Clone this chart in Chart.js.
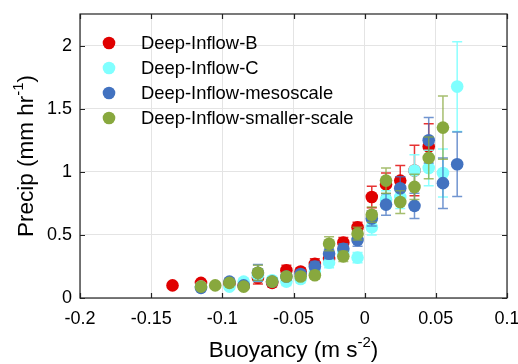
<!DOCTYPE html>
<html>
<head>
<meta charset="utf-8">
<script src="https://cdn.jsdelivr.net/npm/chart.js@4/dist/chart.umd.min.js"></script>
<style>
    html, body { margin: 0; padding: 0; background: #ffffff; }
    #wrap { width: 518px; height: 364px; }
</style>
</head>
<body>
<div id="wrap"><canvas id="precipChart"></canvas></div>
<script>
const buoyancyBins = [-0.135, -0.115, -0.105, -0.095, -0.085, -0.075, -0.065, -0.055, -0.045, -0.035,
    -0.025, -0.015, -0.005, 0.005, 0.015, 0.025, 0.035, 0.045, 0.055, 0.065];

const seriesNames = ['Deep-Inflow-B', 'Deep-Inflow-C', 'Deep-Inflow-mesoscale', 'Deep-Inflow-smaller-scale'];

const precipB = [0.10, 0.12, null, 0.11, 0.10, 0.16, 0.12, 0.22, 0.21, 0.27, 0.31, 0.44, 0.56, 0.80, 0.90, 0.93, 1.01, 1.20, null, null];
const errB = [0.01, 0.02, null, 0.02, 0.02, 0.05, 0.03, 0.04, 0.03, 0.04, 0.04, 0.04, 0.04, 0.085, 0.09, 0.12, 0.20, 0.18, null, null];

const precipC = [null, 0.09, null, 0.09, 0.13, 0.18, 0.14, 0.13, 0.15, 0.21, 0.28, 0.36, 0.32, 0.56, 0.78, 0.80, 1.01, 1.03, 0.99, 1.675];
const errC = [null, 0.02, null, 0.02, 0.02, 0.05, 0.03, 0.03, 0.03, 0.04, 0.04, 0.05, 0.04, 0.06, 0.07, 0.09, 0.125, 0.14, 0.19, 0.355];

const precipMeso = [null, 0.08, null, 0.13, 0.10, 0.20, 0.13, 0.17, 0.19, 0.25, 0.35, 0.39, 0.46, 0.63, 0.74, 0.87, 0.73, 1.25, 0.91, 1.06];
const errMeso = [null, 0.02, null, 0.02, 0.02, 0.065, 0.03, 0.03, 0.03, 0.04, 0.04, 0.04, 0.05, 0.06, 0.085, 0.09, 0.10, 0.18, 0.20, 0.255];

const precipSmall = [null, 0.09, 0.10, 0.12, 0.09, 0.20, 0.13, 0.17, 0.17, 0.18, 0.43, 0.33, 0.51, 0.66, 0.93, 0.76, 0.88, 1.11, 1.35, null];
const errSmall = [null, 0.02, 0.01, 0.02, 0.02, 0.06, 0.03, 0.03, 0.03, 0.03, 0.055, 0.04, 0.05, 0.06, 0.10, 0.09, 0.10, 0.165, 0.25, null];

const xTickValues = [-0.2, -0.15, -0.1, -0.05, 0, 0.05, 0.1];
const yTickValues = [0, 0.5, 1, 1.5, 2];

const seriesColors = ['#e00000', '#80ffff', '#4272c0', '#88a83e'];
const errColors = ['rgba(224,0,0,0.8)', 'rgba(128,255,255,0.9)', 'rgba(66,114,192,0.75)', 'rgba(136,168,62,0.75)'];

const FONT = 'Helvetica, Arial, "Liberation Sans", sans-serif';

function buildPoints(values) {
    const pts = [];
    buoyancyBins.forEach((b, i) => {
        if (values[i] !== null) pts.push({ x: b, y: values[i] });
    });
    return pts;
}

function buildErrors(values, errs) {
    const out = [];
    values.forEach((v, i) => {
        if (v !== null) out.push(errs[i]);
    });
    return out;
}

const allValues = [precipB, precipC, precipMeso, precipSmall];
const allErrors = [errB, errC, errMeso, errSmall];

// error bars go under each series' own markers
const errorBarPlugin = {
    id: 'errorBars',
    beforeDatasetDraw(chart, args) {
        const ds = chart.data.datasets[args.index];
        if (!ds.errors) return;
        const xs = chart.scales.x, ys = chart.scales.y;
        const ctx = chart.ctx;
        ctx.save();
        ctx.strokeStyle = ds.errorColor;
        ctx.lineWidth = 1.5;
        ds.data.forEach((p, i) => {
            const e = ds.errors[i];
            if (!e) return;
            const px = xs.getPixelForValue(p.x);
            const top = ys.getPixelForValue(p.y + e);
            const bot = ys.getPixelForValue(p.y - e);
            ctx.beginPath();
            ctx.moveTo(px, top); ctx.lineTo(px, bot);
            ctx.moveTo(px - 5, top); ctx.lineTo(px + 5, top);
            ctx.moveTo(px - 5, bot); ctx.lineTo(px + 5, bot);
            ctx.stroke();
        });
        ctx.restore();
    }
};

// box around the plot with inward ticks on all sides, legend and axis titles
const framePlugin = {
    id: 'frame',
    afterDraw(chart) {
        const ctx = chart.ctx;
        const a = chart.chartArea;
        const xs = chart.scales.x, ys = chart.scales.y;
        ctx.save();
        ctx.strokeStyle = '#222';
        ctx.lineWidth = 1.2;
        ctx.strokeRect(a.left, a.top, a.right - a.left, a.bottom - a.top);
        ctx.beginPath();
        xTickValues.forEach(v => {
            const px = Math.round(xs.getPixelForValue(v)) + 0.5;
            ctx.moveTo(px, a.bottom); ctx.lineTo(px, a.bottom - 5);
            ctx.moveTo(px, a.top); ctx.lineTo(px, a.top + 5);
        });
        yTickValues.forEach(v => {
            const py = Math.round(ys.getPixelForValue(v)) + 0.5;
            ctx.moveTo(a.left, py); ctx.lineTo(a.left + 5, py);
            ctx.moveTo(a.right, py); ctx.lineTo(a.right - 5, py);
        });
        ctx.stroke();

        // legend
        ctx.font = '18.4px ' + FONT;
        ctx.textBaseline = 'middle';
        ctx.textAlign = 'left';
        seriesNames.forEach((name, i) => {
            const rowY = 43 + i * 25;
            ctx.fillStyle = seriesColors[i];
            ctx.beginPath();
            ctx.arc(109, rowY, 6.3, 0, Math.PI * 2);
            ctx.fill();
            ctx.fillStyle = '#000';
            ctx.fillText(name, 141, rowY + 1);
        });

        // axis titles with superscripts
        drawTitle(ctx, 'Buoyancy (m s', '-2', ')', (a.left + a.right) / 2, 351, 0);
        drawTitle(ctx, 'Precip (mm hr', '-1', ')', 27, (a.top + a.bottom) / 2, -Math.PI / 2);
        ctx.restore();
    }
};

function drawTitle(ctx, main, sup, tail, cx, cy, rot) {
    const big = '22.5px ' + FONT, small = '15px ' + FONT;
    ctx.font = big;
    const w1 = ctx.measureText(main).width;
    const w3 = ctx.measureText(tail).width;
    ctx.font = small;
    const w2 = ctx.measureText(sup).width;
    const total = w1 + w2 + w3;
    ctx.save();
    ctx.translate(cx, cy);
    ctx.rotate(rot);
    ctx.fillStyle = '#000';
    ctx.textAlign = 'left';
    ctx.textBaseline = 'middle';
    let x = -total / 2;
    ctx.font = big;
    ctx.fillText(main, x, 0);
    x += w1;
    ctx.font = small;
    ctx.fillText(sup, x, -8);
    x += w2;
    ctx.font = big;
    ctx.fillText(tail, x, 0);
    ctx.restore();
}

const datasets = seriesNames.map((name, i) => ({
    label: name,
    data: buildPoints(allValues[i]),
    errors: buildErrors(allValues[i], allErrors[i]),
    errorColor: errColors[i],
    backgroundColor: seriesColors[i],
    borderWidth: 0,
    pointRadius: 6.3,
    pointHoverRadius: 6.3,
    order: 4 - i
}));

const ctx = document.getElementById('precipChart').getContext('2d');
const precipChart = new Chart(ctx, {
    type: 'scatter',
    data: { datasets: datasets },
    options: {
        responsive: true,
        maintainAspectRatio: false,
        animation: false,
        layout: { padding: { top: 14, right: 11, left: 0, bottom: 0 } },
        plugins: {
            legend: { display: false },
            tooltip: { enabled: false }
        },
        scales: {
            x: {
                type: 'linear',
                min: -0.2,
                max: 0.1,
                afterFit: scale => {
                    scale.height = 66;
                    scale.paddingLeft = 0;
                    scale.paddingRight = 0;
                },
                afterBuildTicks: scale => { scale.ticks = xTickValues.map(v => ({ value: v })); },
                grid: { color: '#e4e4e4', lineWidth: 1, drawTicks: false },
                border: { display: false },
                ticks: {
                    padding: 10,
                    color: '#000',
                    font: { family: FONT, size: 18 },
                    maxRotation: 0,
                    callback: v => String(+v.toFixed(3))
                }
            },
            y: {
                type: 'linear',
                min: 0,
                max: 2.25,
                afterFit: scale => {
                    scale.width = 80;
                    scale.paddingTop = 0;
                    scale.paddingBottom = 0;
                },
                afterBuildTicks: scale => { scale.ticks = yTickValues.map(v => ({ value: v })); },
                grid: { color: '#e4e4e4', lineWidth: 1, drawTicks: false },
                border: { display: false },
                ticks: {
                    padding: 8,
                    color: '#000',
                    font: { family: FONT, size: 18 },
                    callback: v => String(+v.toFixed(2))
                }
            }
        }
    },
    plugins: [errorBarPlugin, framePlugin]
});
</script>
</body>
</html>
